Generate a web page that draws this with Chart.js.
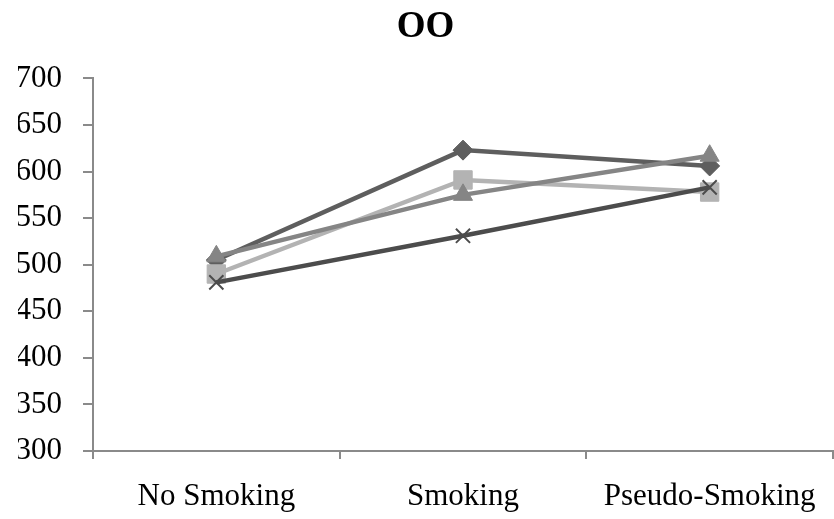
<!DOCTYPE html>
<html>
<head>
<meta charset="utf-8">
<script src="https://cdn.jsdelivr.net/npm/chart.js@4"></script>
<style>
  html, body { margin: 0; padding: 0; background: #fff; overflow: hidden; }
  #wrap { width: 834px; height: 519px; position: relative; }
  canvas { display: block; }
</style>
</head>
<body>
<div id="wrap"><canvas id="chart"></canvas></div>
<script>
// Chart data
const CATEGORIES = ['No Smoking', 'Smoking', 'Pseudo-Smoking'];
const SERIES_DIAMOND = [505, 623, 606];
const SERIES_SQUARE = [490, 591, 578];
const SERIES_TRIANGLE = [509, 575, 617];
const SERIES_CROSS = [481, 531, 583];
const Y_MIN = 300;
const Y_MAX = 700;
const Y_STEP = 50;

const FONT = "'Liberation Serif', 'Times New Roman', serif";
const AXIS_COLOR = '#8a8a8a';

function line(data, color, style, radius, order, extra) {
    return Object.assign({
        data,
        borderColor: color,
        backgroundColor: color,
        pointBackgroundColor: color,
        pointBorderColor: color,
        borderWidth: 4.5,
        pointStyle: style,
        pointRadius: radius,
        pointBorderWidth: 1,
        tension: 0,
        fill: false,
        order,
    }, extra || {});
}

new Chart(document.getElementById('chart'), {
    type: 'line',
    data: {
        labels: CATEGORIES,
        datasets: [
            line(SERIES_DIAMOND, '#5e5e5e', 'rectRot', 10, 3),
            line(SERIES_SQUARE, '#b3b3b3', 'rect', 13, 2),
            line(SERIES_TRIANGLE, '#858585', 'triangle', 11, 1),
            line(SERIES_CROSS, '#4c4c4c', 'crossRot', 10, 0, { pointBorderWidth: 2 }),
        ],
    },
    options: {
        responsive: true,
        maintainAspectRatio: false,
        animation: false,
        // left padding nudges the centred title to the right like the original
        layout: { autoPadding: false, padding: { left: 18, right: 1, top: 0, bottom: 0 } },
        plugins: {
            legend: { display: false },
            tooltip: { enabled: false },
            title: {
                display: true,
                text: 'OO',
                color: '#000',
                font: { family: FONT, size: 37, weight: 'bold' },
                padding: { top: 5, bottom: 29 },
            },
        },
        scales: {
            x: {
                offset: true,
                grid: {
                    offset: true,
                    drawOnChartArea: false,
                    color: AXIS_COLOR,
                    lineWidth: 2,
                    tickLength: 8,
                },
                border: { color: AXIS_COLOR, width: 2 },
                ticks: {
                    color: '#000',
                    font: { family: FONT, size: 31 },
                    padding: 19,
                    maxRotation: 0,
                },
                afterFit: s => {
                    s.height = 68;
                    s.paddingLeft = 0;
                    s.paddingRight = 0;
                },
            },
            y: {
                min: Y_MIN,
                max: Y_MAX,
                grid: {
                    drawOnChartArea: false,
                    color: AXIS_COLOR,
                    lineWidth: 2,
                    tickLength: 10,
                },
                border: { color: AXIS_COLOR, width: 2 },
                ticks: {
                    stepSize: Y_STEP,
                    color: '#000',
                    font: { family: FONT, size: 31 },
                    padding: 21,
                },
                afterFit: s => { s.width = 75; },
            },
        },
    },
});
</script>
</body>
</html>
